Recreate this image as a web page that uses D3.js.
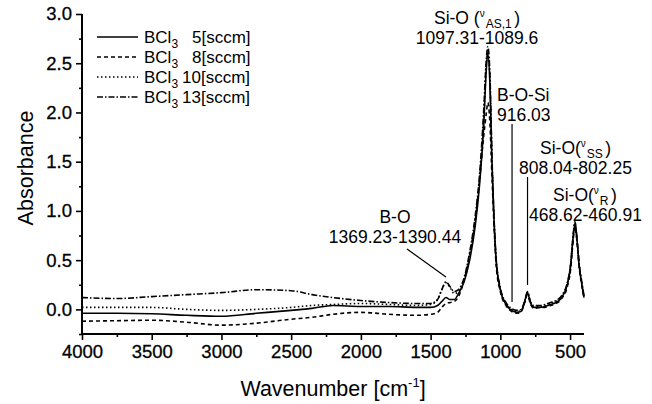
<!DOCTYPE html>
<html>
<head>
<meta charset="utf-8">
<script src="https://cdn.jsdelivr.net/npm/d3@7"></script>
<style>
  body { margin: 0; background: #fff; }
  text { font-family: Arial, "Liberation Sans", sans-serif; fill: #000; }
</style>
</head>
<body>
<script>
// wavenumber grid [cm-1]
const wavenumbers = [4000, 3750, 3500, 3250, 3000, 2750, 2500, 2350, 2200, 2000, 1800, 1600, 1500, 1450, 1420, 1390, 1360, 1330, 1300, 1260, 1220, 1180, 1150, 1120, 1100, 1090, 1075, 1060, 1045, 1030, 1000, 960, 920, 880, 850, 825, 805, 785, 760, 720, 680, 640, 600, 560, 520, 495, 480, 465, 450, 435, 415, 400];

// absorbance for each BCl3 flow
const bcl5 = [-0.04, -0.04, -0.045, -0.06, -0.07, -0.04, -0.01, 0.01, 0.04, 0.03, 0.03, 0.02, 0.02, 0.04, 0.08, 0.12, 0.1, 0.1, 0.16, 0.28, 0.5, 0.85, 1.25, 1.85, 2.45, 2.6, 2.3, 1.5, 0.9, 0.5, 0.2, 0.05, -0.01, -0.03, -0.02, 0.08, 0.17, 0.07, 0.02, 0.02, 0.03, 0.05, 0.07, 0.12, 0.25, 0.45, 0.7, 0.87, 0.7, 0.45, 0.25, 0.12];
const bcl8 = [-0.12, -0.115, -0.11, -0.13, -0.16, -0.14, -0.1, -0.08, -0.05, -0.03, -0.05, -0.06, -0.05, -0.03, 0.02, 0.06, 0.07, 0.08, 0.13, 0.3, 0.55, 0.9, 1.3, 1.75, 2.0, 2.1, 1.9, 1.35, 0.85, 0.45, 0.18, 0.04, -0.02, -0.04, -0.02, 0.07, 0.15, 0.06, 0.01, 0.02, 0.02, 0.04, 0.06, 0.11, 0.23, 0.42, 0.67, 0.84, 0.68, 0.43, 0.24, 0.11];
const bcl10 = [0.02, 0.02, 0.02, 0.0, -0.01, 0.0, 0.02, 0.04, 0.05, 0.06, 0.05, 0.04, 0.05, 0.1, 0.2, 0.27, 0.22, 0.16, 0.18, 0.3, 0.55, 0.9, 1.3, 1.9, 2.5, 2.62, 2.35, 1.5, 0.9, 0.5, 0.2, 0.06, 0.0, -0.02, -0.01, 0.08, 0.17, 0.08, 0.03, 0.03, 0.04, 0.06, 0.08, 0.13, 0.26, 0.46, 0.71, 0.88, 0.71, 0.46, 0.26, 0.13];
const bcl13 = [0.12, 0.11, 0.13, 0.15, 0.17, 0.2, 0.19, 0.15, 0.12, 0.09, 0.07, 0.06, 0.06, 0.1, 0.2, 0.28, 0.23, 0.18, 0.2, 0.32, 0.58, 0.95, 1.35, 2.0, 2.55, 2.67, 2.4, 1.55, 0.92, 0.52, 0.22, 0.07, 0.01, -0.01, 0.0, 0.09, 0.18, 0.08, 0.04, 0.04, 0.05, 0.07, 0.09, 0.14, 0.27, 0.47, 0.72, 0.89, 0.72, 0.47, 0.27, 0.14];

const seriesNames = ["5", "8", "10", "13"];
const seriesValues = [bcl5, bcl8, bcl10, bcl13];
const dashes = [null, "4,3", "1.5,2.5", "6,2,1.5,2"];

const xTicks = [4000, 3500, 3000, 2500, 2000, 1500, 1000, 500];
const yTicks = [0, 0.5, 1.0, 1.5, 2.0, 2.5, 3.0];

const width = 652, height = 404;
const mLeft = 82, mRight = 584, mTop = 14, mBottom = 334;

const svg = d3.select("body").append("svg")
  .attr("width", width)
  .attr("height", height);

const x = d3.scaleLinear().domain([4000, 400]).range([mLeft, mRight]);
const y = d3.scaleLinear().domain([-0.25, 3.0]).range([mBottom, mTop]);

//Axes with outward major and minor ticks
const xAxis = svg.append("g")
  .attr("transform", `translate(0,${mBottom})`)
  .call(d3.axisBottom(x).tickValues(xTicks).tickSize(6).tickPadding(5).tickFormat(d3.format("d")));
svg.append("g")
  .attr("transform", `translate(0,${mBottom})`)
  .call(d3.axisBottom(x).tickValues(d3.range(3750, 400, -500)).tickSize(3).tickFormat(""))
  .select(".domain").remove();

const yAxis = svg.append("g")
  .attr("transform", `translate(${mLeft},0)`)
  .call(d3.axisLeft(y).tickValues(yTicks).tickSize(6).tickPadding(4).tickFormat(d3.format(".1f")));
svg.append("g")
  .attr("transform", `translate(${mLeft},0)`)
  .call(d3.axisLeft(y).tickValues(d3.range(-0.25, 3, 0.5)).tickSize(3).tickFormat(""))
  .select(".domain").remove();

xAxis.select(".domain").attr("d", `M${mLeft},0H${mRight}`);
yAxis.select(".domain").attr("d", `M0,${mTop}V${mBottom}`);
svg.selectAll(".domain").attr("stroke", "#000").attr("stroke-width", 2);
svg.selectAll(".tick line").attr("stroke", "#000").attr("stroke-width", 1.6);
svg.selectAll(".tick text")
  .style("font-size", "18.5px")
  .attr("fill", "#000")
  .attr("stroke", "#000")
  .attr("stroke-width", 0.3);

//Axis titles
svg.append("text")
  .attr("x", 333)
  .attr("y", 396)
  .attr("text-anchor", "middle")
  .style("font-size", "21.5px")
  .html('Wavenumber [cm<tspan dy="-9" font-size="13px">-1</tspan><tspan dy="9">]</tspan>');

svg.append("text")
  .attr("transform", `translate(33,168) rotate(-90)`)
  .attr("text-anchor", "middle")
  .style("font-size", "21.5px")
  .text("Absorbance");

//Spectra
const line = d3.line()
  .x((d) => x(d[0]))
  .y((d) => y(d[1]))
  .curve(d3.curveMonotoneX);

svg.append("g")
  .selectAll("path")
  .data(seriesValues)
  .join("path")
  .attr("fill", "none")
  .attr("stroke", "#000")
  .attr("stroke-width", 1.6)
  .attr("stroke-dasharray", (d, i) => dashes[i])
  .attr("d", (vals) => line(wavenumbers.map((w, i) => [w, vals[i]])));

//Legend
const legend = svg.append("g").attr("transform", "translate(97,37)");
const row = legend.selectAll("g")
  .data(seriesNames)
  .join("g")
  .attr("transform", (d, i) => `translate(0,${i * 20})`);
row.append("line")
  .attr("x1", 0).attr("x2", 41)
  .attr("stroke", "#000").attr("stroke-width", 1.3)
  .attr("stroke-dasharray", (d, i) => dashes[i]);
row.append("text")
  .attr("x", 47).attr("y", 6)
  .style("font-size", "17px")
  .html((d) => `BCl<tspan dy="5" font-size="12px">3</tspan><tspan dy="-5" x="${d.length > 1 ? 85 : 95}">${d}[sccm]</tspan>`);

//Peak annotations
function label(xp, yp, anchor, html) {
  svg.append("text")
    .attr("x", xp).attr("y", yp)
    .attr("text-anchor", anchor)
    .style("font-size", "17.5px")
    .html(html);
}
const nu = (sub) => `<tspan font-size="10px" dy="-7">ν</tspan><tspan font-size="12px" dy="11" dx="1">${sub}</tspan><tspan dy="-4" dx="2.5">)</tspan>`;

label(477, 24, "middle", "Si-O (" + nu("AS,1"));
label(477, 44, "middle", "1097.31-1089.6");
label(497, 101, "start", "B-O-Si");
label(497, 121, "start", "916.03");
label(540, 154, "start", "Si-O(" + nu("SS"));
label(519, 174, "start", "808.04-802.25");
label(553, 201, "start", "Si-O(" + nu("R"));
label(529, 221, "start", "468.62-460.91");
label(395, 223, "middle", "B-O");
label(395, 243, "middle", "1369.23-1390.44");

const leaders = [
  [916.03, 124, 916.03, 302],
  [805, 177, 805, 285]
];
svg.selectAll(".leader")
  .data(leaders)
  .join("line")
  .attr("class", "leader")
  .attr("x1", (d) => x(d[0])).attr("y1", (d) => d[1])
  .attr("x2", (d) => x(d[2])).attr("y2", (d) => d[3])
  .attr("stroke", "#000").attr("stroke-width", 1.2);
svg.append("line")
  .attr("x1", 407).attr("y1", 249)
  .attr("x2", x(1390)).attr("y2", y(0.33))
  .attr("stroke", "#000").attr("stroke-width", 1.2);
</script>
</body>
</html>
